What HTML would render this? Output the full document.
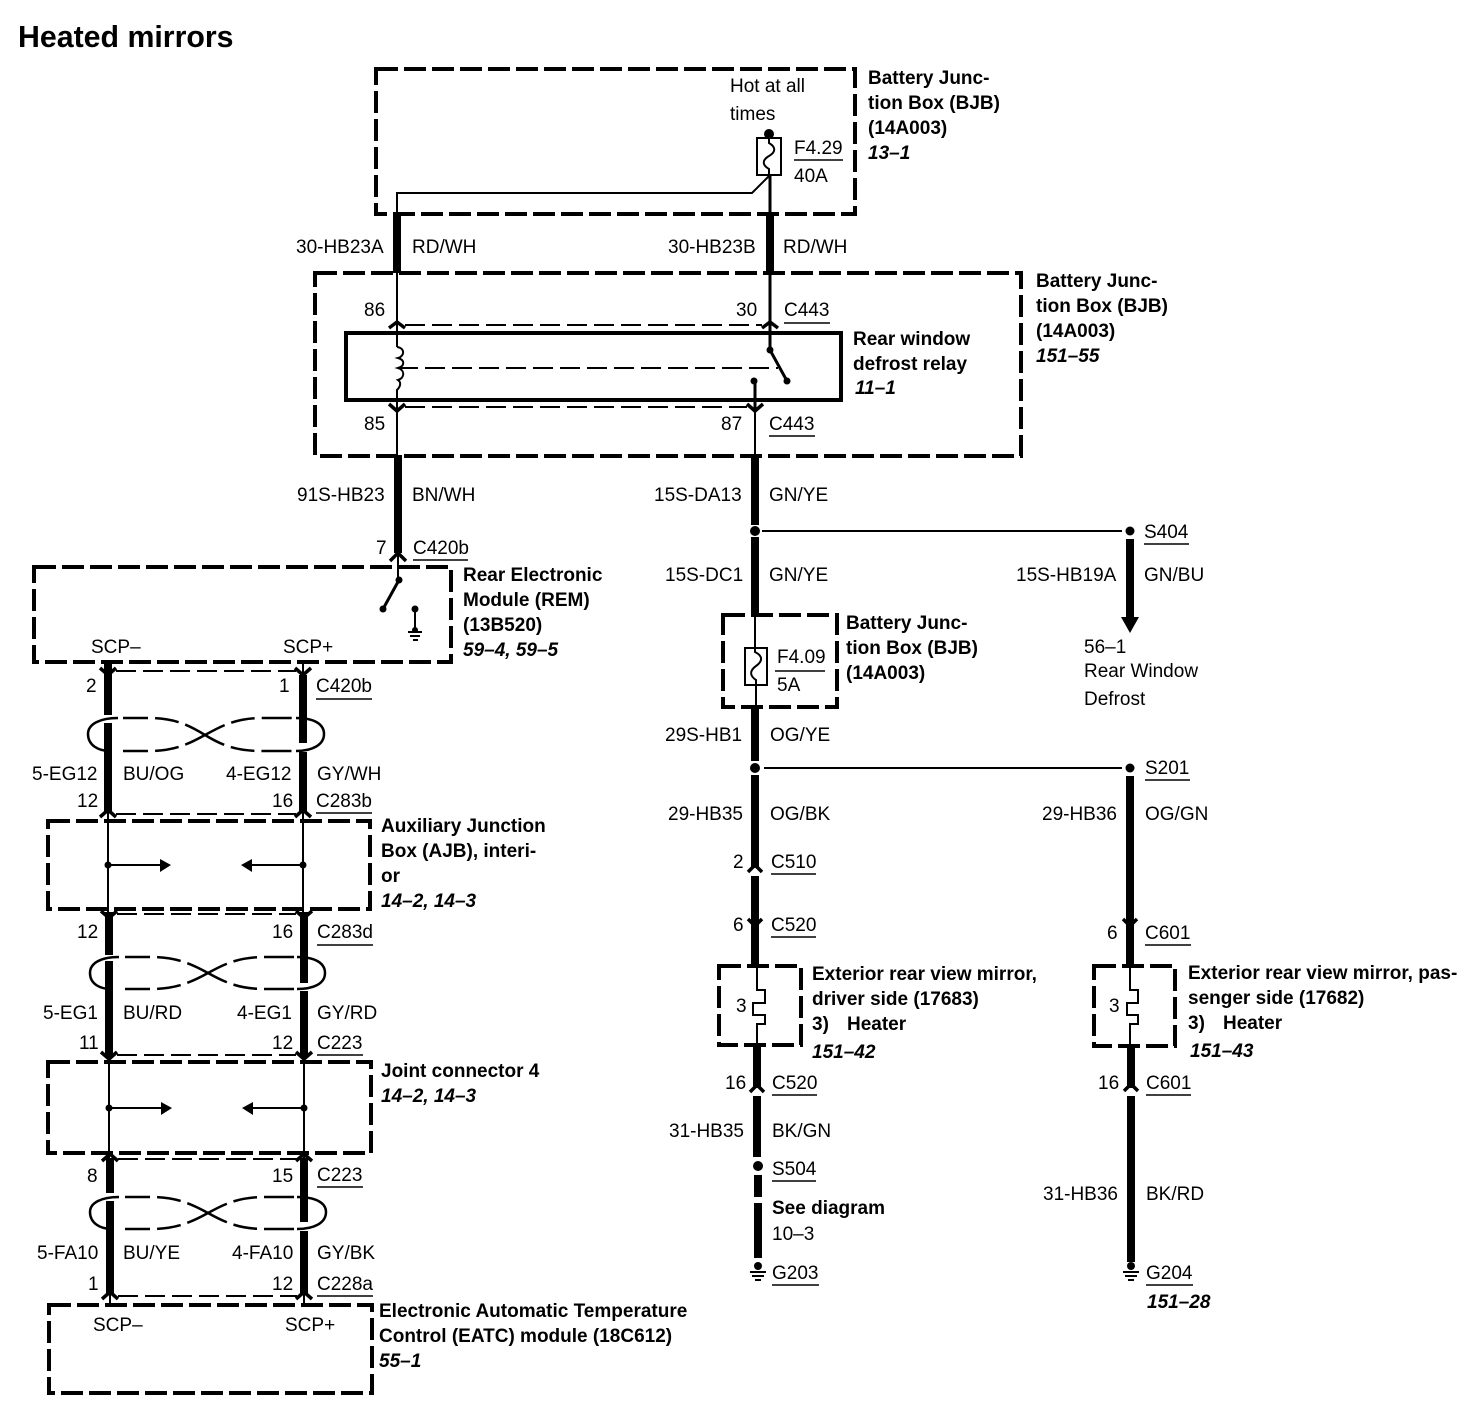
<!DOCTYPE html>
<html><head><meta charset="utf-8"><title>Heated mirrors</title>
<style>
html,body{margin:0;padding:0;background:#fff}
svg{display:block}
text{font-family:"Liberation Sans",sans-serif;font-size:19px;fill:#000}
.b{font-weight:bold}
.i{font-weight:bold;font-style:italic}
.h{font-weight:bold;font-size:30.3px}
.box{fill:none;stroke:#000;stroke-width:4;stroke-dasharray:22 6}
.tk{stroke:#000;stroke-width:8;fill:none}
.tn{stroke:#000;stroke-width:2;fill:none}
.md{stroke:#000;stroke-width:3;fill:none}
.ds{stroke:#000;stroke-width:2;fill:none;stroke-dasharray:20 7}
.ch{stroke:#000;stroke-width:3.5;fill:none}
.tw{stroke:#000;stroke-width:2.5;fill:none;stroke-dasharray:25 7 24 7 44 7 24 7 30}
.lp{stroke:#000;stroke-width:2.5;fill:none}
.ul{stroke:#000;stroke-width:1.5}
</style></head><body>
<svg width="1462" height="1408" viewBox="0 0 1462 1408" xmlns="http://www.w3.org/2000/svg">
<rect width="1462" height="1408" fill="#fff"/>
<text class="h" x="18" y="47">Heated mirrors</text>

<!-- Top BJB -->
<rect class="box" x="376" y="69" width="479" height="145"/>
<path class="tn" d="M397 215V193H752L769 176"/>
<path class="md" d="M770 133V215"/>
<circle cx="769" cy="134" r="5"/>
<rect x="757" y="138" width="24" height="37" fill="#fff" stroke="#000" stroke-width="2"/>
<path class="tn" d="M769 138V143C776 147 776 152 769 156C762 160 762 165 769 169V178"/>
<path class="md" d="M770 175V215"/>
<path class="tk" d="M397 214V273M770 214V273"/>

<text x="730" y="92">Hot at all</text>
<text x="730" y="120">times</text>
<text x="794" y="154">F4.29</text><line class="ul" x1="794" y1="160" x2="843" y2="160"/>
<text x="794" y="182">40A</text>
<text class="b" x="868" y="84">Battery Junc-</text>
<text class="b" x="868" y="109">tion Box (BJB)</text>
<text class="b" x="868" y="134">(14A003)</text>
<text class="i" x="868" y="159">13–1</text>
<text x="296" y="253">30-HB23A</text><text x="412" y="253">RD/WH</text>
<text x="668" y="253">30-HB23B</text><text x="783" y="253">RD/WH</text>

<!-- Second BJB + relay -->
<rect class="box" x="315" y="273" width="706" height="183"/>
<rect x="346" y="333" width="495" height="67" fill="none" stroke="#000" stroke-width="4"/>
<path class="tn" d="M397 273V347"/>
<path class="md" d="M770 273V350"/>
<path class="tn" d="M397 347C405 348 405 356 398 358C405 360 405 366 398 368C405 370 405 378 398 380C401 382 401 386 397 390V455"/>
<path class="ch" d="M389 328L397 322L405 328M762 328L770 322L778 328"/>
<path class="ds" d="M405 325H762"/>
<path class="ch" d="M389 404L397 411L405 404M747 404L755 411L763 404"/>
<path class="ds" d="M405 407H747"/>
<path class="ds" d="M398 368H778"/>
<circle cx="770" cy="350" r="3.5"/><circle cx="754" cy="381" r="3.5"/>
<path class="md" d="M770 350L787 381"/><circle cx="787" cy="381" r="3.5"/>
<path class="md" d="M755 381V411"/>
<path class="tn" d="M755 411V455"/>

<text x="364" y="316">86</text><text x="736" y="316">30</text>
<text x="784" y="316">C443</text><line class="ul" x1="784" y1="323" x2="830" y2="323"/>
<text class="b" x="853" y="345">Rear window</text>
<text class="b" x="853" y="370">defrost relay</text>
<text class="i" x="855" y="394">11–1</text>
<text class="b" x="1036" y="287">Battery Junc-</text>
<text class="b" x="1036" y="312">tion Box (BJB)</text>
<text class="b" x="1036" y="337">(14A003)</text>
<text class="i" x="1036" y="362">151–55</text>
<text x="364" y="430">85</text><text x="721" y="430">87</text>
<text x="769" y="430">C443</text><line class="ul" x1="769" y1="436" x2="815" y2="436"/>

<path class="tk" d="M398 455V553M755 455V525M755 537V614"/>
<text x="297" y="501">91S-HB23</text><text x="412" y="501">BN/WH</text>
<text x="654" y="501">15S-DA13</text><text x="769" y="501">GN/YE</text>
<text x="376" y="554">7</text>
<text x="413" y="554">C420b</text><line class="ul" x1="413" y1="560" x2="468" y2="560"/>
<path class="ch" d="M390 561L398 553L406 561"/>

<!-- S404 -->
<circle cx="755" cy="531" r="5"/>
<line class="tn" x1="762" y1="531" x2="1122" y2="531"/>
<circle cx="1130" cy="531" r="4.5"/>
<text x="1144" y="538">S404</text><line class="ul" x1="1144" y1="544" x2="1189" y2="544"/>
<path class="tk" d="M1130 539V618"/>
<path d="M1121 617H1139L1130 633Z"/>
<text x="665" y="581">15S-DC1</text><text x="769" y="581">GN/YE</text>
<text x="1016" y="581">15S-HB19A</text><text x="1144" y="581">GN/BU</text>
<text x="1084" y="653">56–1</text>
<text x="1084" y="677">Rear Window</text>
<text x="1084" y="705">Defrost</text>

<!-- REM -->
<rect class="box" x="34" y="567" width="417" height="95"/>
<path class="tn" d="M398 553V580"/>
<circle cx="399" cy="580" r="3.5"/>
<path class="md" d="M399 580L383 609"/><circle cx="383" cy="609" r="3.5"/>
<circle cx="415" cy="609" r="3.5"/>
<path class="tn" d="M415 609V630M408 632H422M410 636H420M413 640H418"/>
<circle cx="415" cy="630" r="3"/>
<text class="b" x="463" y="581">Rear Electronic</text>
<text class="b" x="463" y="606">Module (REM)</text>
<text class="b" x="463" y="631">(13B520)</text>
<text class="i" x="463" y="656">59–4, 59–5</text>
<text x="91" y="653">SCP–</text><text x="283" y="653">SCP+</text>

<!-- Pair 1 -->
<path class="tk" d="M108 663V715M108 723V811M303 675V743M303 752V811"/>
<path class="tn" d="M303 663V676"/>
<path class="ds" d="M116 671H296M116 814H296"/>
<path class="ch" d="M100 668L108 675L116 668M295 668L303 675L311 668"/>
<path class="ch" d="M100 817L108 810L116 817M295 817L303 810L311 817"/>
<path class="lp" d="M118 718C100 718 88 724 88 734C88 745 98 751 110 751"/>
<path class="tw" d="M123 751H148C173 751 187 745 205 735C223 725 237 718 262 718H294"/>
<path class="tw" d="M123 718H148C173 718 187 724 205 735C223 746 237 751 262 751H294"/>
<path class="lp" d="M296 718C314 718 324 724 324 734C324 745 312 751 296 751"/>
<text x="86" y="692">2</text><text x="279" y="692">1</text>
<text x="316" y="692">C420b</text><line class="ul" x1="316" y1="699" x2="372" y2="699"/>
<text x="32" y="780">5-EG12</text><text x="123" y="780">BU/OG</text>
<text x="226" y="780">4-EG12</text><text x="317" y="780">GY/WH</text>
<text x="77" y="807">12</text><text x="272" y="807">16</text>
<text x="316" y="807">C283b</text><line class="ul" x1="316" y1="813" x2="372" y2="813"/>

<!-- AJB -->
<rect class="box" x="48" y="821" width="322" height="88"/>
<path class="tn" d="M108 812V915M303 812V915"/>
<circle cx="108" cy="865" r="3.5"/><circle cx="303" cy="865" r="3.5"/>
<path class="tn" d="M108 865H160M303 865H250"/>
<path d="M160 859L171 865L160 872ZM252 859L241 865L252 872Z"/>
<text class="b" x="381" y="832">Auxiliary Junction</text>
<text class="b" x="381" y="857">Box (AJB), interi-</text>
<text class="b" x="381" y="882">or</text>
<text class="i" x="381" y="907">14–2, 14–3</text>

<!-- Pair 2 -->
<path class="tk" d="M109 912V955M109 961V1056M304 912V983M304 991V1056"/>
<path class="ds" d="M117 914H296M117 1055H296"/>
<path class="ch" d="M101 911L109 918L117 911M296 911L304 918L312 911"/>
<path class="ch" d="M101 1052L109 1059L117 1052M296 1052L304 1059L312 1052"/>
<path class="lp" d="M119 957C101 957 90 963 90 973C90 984 100 989 111 989"/>
<path class="tw" d="M125 989H150C175 989 190 983 208 973C226 963 240 957 265 957H296"/>
<path class="tw" d="M125 957H150C175 957 190 963 208 973C226 983 240 989 265 989H296"/>
<path class="lp" d="M297 957C315 957 325 963 325 973C325 984 313 989 297 989"/>
<text x="77" y="938">12</text><text x="272" y="938">16</text>
<text x="317" y="938">C283d</text><line class="ul" x1="317" y1="945" x2="373" y2="945"/>
<text x="43" y="1019">5-EG1</text><text x="123" y="1019">BU/RD</text>
<text x="237" y="1019">4-EG1</text><text x="317" y="1019">GY/RD</text>
<text x="79" y="1049">11</text><text x="272" y="1049">12</text>
<text x="317" y="1049">C223</text><line class="ul" x1="317" y1="1055" x2="363" y2="1055"/>

<!-- Joint connector -->
<rect class="box" x="48" y="1062" width="323" height="91"/>
<path class="tn" d="M109 1056V1158M304 1056V1158"/>
<circle cx="109" cy="1108" r="3.5"/><circle cx="304" cy="1108" r="3.5"/>
<path class="tn" d="M109 1108H161M304 1108H252"/>
<path d="M161 1102L172 1108L161 1115ZM253 1102L242 1108L253 1115Z"/>
<text class="b" x="381" y="1077">Joint connector 4</text>
<text class="i" x="381" y="1102">14–2, 14–3</text>

<!-- Pair 3 -->
<path class="tk" d="M110 1158V1193M110 1201V1295M304 1158V1222M304 1231V1295"/>
<path class="ds" d="M118 1159H297M118 1296H297"/>
<path class="ch" d="M102 1161L110 1154L118 1161M296 1161L304 1154L312 1161"/>
<path class="ch" d="M102 1299L110 1292L118 1299M296 1299L304 1292L312 1299"/>
<path class="tn" d="M110 1295V1305M304 1295V1305"/>
<path class="lp" d="M119 1197C101 1197 90 1203 90 1212C90 1223 100 1229 112 1229"/>
<path class="tw" d="M125 1229H150C175 1229 190 1223 208 1213C226 1203 240 1197 265 1197H296"/>
<path class="tw" d="M125 1197H150C175 1197 190 1203 208 1213C226 1223 240 1229 265 1229H296"/>
<path class="lp" d="M297 1197C316 1197 326 1203 326 1212C326 1223 314 1229 297 1229"/>
<text x="87" y="1182">8</text><text x="272" y="1182">15</text>
<text x="317" y="1181">C223</text><line class="ul" x1="317" y1="1187" x2="363" y2="1187"/>
<text x="37" y="1259">5-FA10</text><text x="123" y="1259">BU/YE</text>
<text x="232" y="1259">4-FA10</text><text x="317" y="1259">GY/BK</text>
<text x="88" y="1290">1</text><text x="272" y="1290">12</text>
<text x="317" y="1290">C228a</text><line class="ul" x1="317" y1="1296" x2="373" y2="1296"/>

<!-- EATC -->
<rect class="box" x="49" y="1305" width="323" height="88"/>
<text x="93" y="1331">SCP–</text><text x="285" y="1331">SCP+</text>
<text class="b" x="379" y="1317">Electronic Automatic Temperature</text>
<text class="b" x="379" y="1342">Control (EATC) module (18C612)</text>
<text class="i" x="379" y="1367">55–1</text>

<!-- Middle BJB F4.09 -->
<rect class="box" x="723" y="615" width="114" height="92"/>
<path class="tn" d="M755 615V647"/>
<rect x="745" y="648" width="22" height="37" fill="#fff" stroke="#000" stroke-width="2"/>
<path class="tn" d="M755 648V652C763 656 763 661 756 666C749 671 750 676 756 680V707"/>
<text x="777" y="663">F4.09</text><line class="ul" x1="775" y1="671" x2="825" y2="671"/>
<text x="777" y="691">5A</text>
<text class="b" x="846" y="629">Battery Junc-</text>
<text class="b" x="846" y="654">tion Box (BJB)</text>
<text class="b" x="846" y="679">(14A003)</text>

<path class="tk" d="M755 707V761M755 775V868M755 876V966"/>
<text x="665" y="741">29S-HB1</text><text x="770" y="741">OG/YE</text>
<circle cx="755" cy="768" r="5"/>
<line class="tn" x1="764" y1="768" x2="1122" y2="768"/>
<circle cx="1130" cy="768" r="4.5"/>
<text x="1145" y="774">S201</text><line class="ul" x1="1145" y1="780" x2="1190" y2="780"/>
<text x="668" y="820">29-HB35</text><text x="770" y="820">OG/BK</text>
<text x="1042" y="820">29-HB36</text><text x="1145" y="820">OG/GN</text>
<path class="ch" d="M748 872L755 865L762 872M748 919L755 926L762 919"/>
<text x="733" y="868">2</text>
<text x="771" y="868">C510</text><line class="ul" x1="771" y1="874" x2="816" y2="874"/>
<text x="733" y="931">6</text>
<text x="771" y="931">C520</text><line class="ul" x1="771" y1="937" x2="816" y2="937"/>

<!-- Driver mirror -->
<rect class="box" x="719" y="966" width="82" height="79"/>
<path class="tn" d="M757 966V990H765V1003H753V1015H765V1024H757V1045"/>
<text x="736" y="1012">3</text>
<text class="b" x="812" y="980">Exterior rear view mirror,</text>
<text class="b" x="812" y="1005">driver side (17683)</text>
<text class="b" x="812" y="1030">3)</text><text class="b" x="847" y="1030">Heater</text>
<text class="i" x="812" y="1058">151–42</text>
<path class="tk" d="M757 1045V1088M757 1096V1157M758 1175V1197M758 1203V1258"/>
<path class="ch" d="M750 1092L757 1085L764 1092"/>
<text x="725" y="1089">16</text>
<text x="772" y="1089">C520</text><line class="ul" x1="772" y1="1095" x2="817" y2="1095"/>
<text x="669" y="1137">31-HB35</text><text x="772" y="1137">BK/GN</text>
<circle cx="758" cy="1166" r="5"/>
<text x="772" y="1175">S504</text><line class="ul" x1="772" y1="1181" x2="816" y2="1181"/>
<text class="b" x="772" y="1214">See diagram</text>
<text x="772" y="1240">10–3</text>
<circle cx="758" cy="1266" r="4"/>
<path class="tn" d="M750 1272H766M752 1276H764M755 1280H761"/>
<text x="772" y="1279">G203</text><line class="ul" x1="772" y1="1285" x2="819" y2="1285"/>

<!-- Passenger mirror -->
<path class="tk" d="M1130 776V966"/>
<path class="ch" d="M1123 919L1130 926L1137 919"/>
<text x="1107" y="939">6</text>
<text x="1145" y="939">C601</text><line class="ul" x1="1145" y1="945" x2="1191" y2="945"/>
<rect class="box" x="1094" y="966" width="81" height="80"/>
<path class="tn" d="M1130 966V990H1138V1003H1127V1015H1138V1024H1130V1046"/>
<text x="1109" y="1012">3</text>
<text class="b" x="1188" y="979">Exterior rear view mirror, pas-</text>
<text class="b" x="1188" y="1004">senger side (17682)</text>
<text class="b" x="1188" y="1029">3)</text><text class="b" x="1223" y="1029">Heater</text>
<text class="i" x="1190" y="1057">151–43</text>
<path class="tk" d="M1131 1046V1088M1131 1096V1262"/>
<path class="ch" d="M1124 1091L1131 1084L1138 1091"/>
<text x="1098" y="1089">16</text>
<text x="1146" y="1089">C601</text><line class="ul" x1="1146" y1="1095" x2="1191" y2="1095"/>
<text x="1043" y="1200">31-HB36</text><text x="1146" y="1200">BK/RD</text>
<circle cx="1131" cy="1266" r="4"/>
<path class="tn" d="M1123 1272H1139M1125 1276H1137M1128 1280H1134"/>
<text x="1146" y="1279">G204</text><line class="ul" x1="1146" y1="1285" x2="1193" y2="1285"/>
<text class="i" x="1147" y="1308">151–28</text>
</svg>
</body></html>
